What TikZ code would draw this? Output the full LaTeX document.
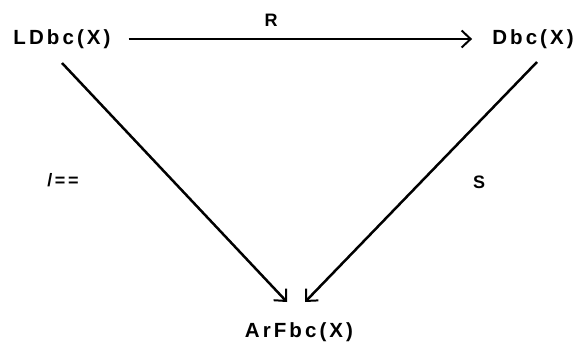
\documentclass[tikz,border=0pt]{standalone}
\usepackage{fontspec}
\setmainfont{Liberation Sans}[LetterSpace=15]
\usetikzlibrary{arrows.meta}
\begin{document}
\begin{tikzpicture}[x=1pt,y=-1pt,
  obj/.style={font=\fontsize{20.5}{24}\selectfont\bfseries, inner sep=0pt},
  lab/.style={font=\fontsize{18}{20}\selectfont\bfseries, inner sep=0pt},
  arr/.style={line width=2.5pt,-{Straight Barb[length=9pt,width=17pt,line width=2pt]}}]
\useasboundingbox (0,0) rectangle (580,350);
\node[obj] (L) at (62,39) {LDbc(X)};
\node[obj] (D) at (533,39) {Dbc(X)};
\node[obj] (A) at (299,332) {ArFbc(X)};
\coordinate (Ls) at (62,63);
\coordinate (Le) at (287,302);
\coordinate (Ds) at (537,62);
\coordinate (De) at (305,302);
\draw[arr] ([xshift=18pt]L.east) -- ([xshift=-20pt]D.west);
\draw[arr] (Ls) -- (Le);
\draw[arr] (Ds) -- (De);
\node[lab] (R) at (271,20) {R};
\node[lab] (F) at (63,180) {/==};
\node[lab] (S) at (479,182) {S};
\end{tikzpicture}
\end{document}
